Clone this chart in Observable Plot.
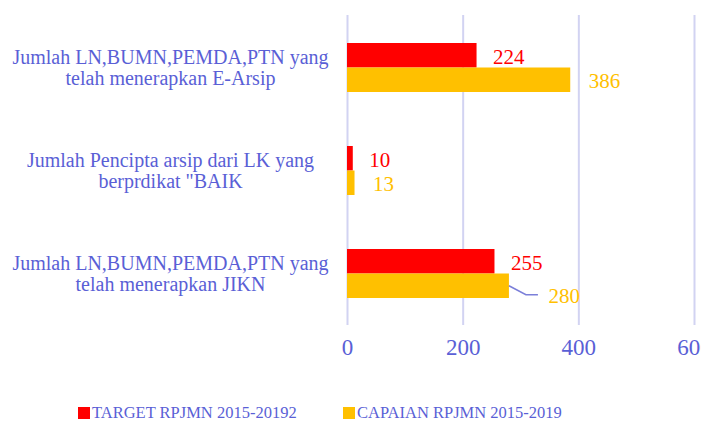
<!DOCTYPE html>
<html>
<head>
<meta charset="utf-8">
<script src="https://cdn.jsdelivr.net/npm/d3@7"></script>
<script src="https://cdn.jsdelivr.net/npm/@observablehq/plot@0.6"></script>
<style>
  html, body { margin: 0; padding: 0; background: #fff; overflow: hidden; }
  #chart { width: 701px; }
  .legend { position: relative; height: 30px; font-family: "Liberation Serif", serif; font-size: 16.5px; color: #5a5fd6; }
  .legend .item { position: absolute; top: 13px; white-space: nowrap; display: flex; align-items: center; }
  .legend .sw { display: inline-block; width: 12px; height: 12px; margin-right: 2px; }
</style>
</head>
<body>
<div id="chart"></div>
<script>
const categories = [
  "Jumlah LN,BUMN,PEMDA,PTN yang\ntelah menerapkan E-Arsip",
  "Jumlah Pencipta arsip dari LK yang\nberprdikat \"BAIK",
  "Jumlah LN,BUMN,PEMDA,PTN yang\ntelah menerapkan JIKN"
];
const targetValues = [224, 10, 255];
const capaianValues = [386, 13, 280];
const seriesNames = ["TARGET RPJMN 2015-20192", "CAPAIAN RPJMN 2015-2019"];
const seriesColors = ["#ff0000", "#ffc000"];
const xTicks = [0, 200, 400, 600];

const textColor = "#5a5fd6";
const font = "Liberation Serif, serif";

const tData = categories.map((c, i) => ({cat: c, value: targetValues[i]}));
const cData = categories.map((c, i) => ({cat: c, value: capaianValues[i]}));
const cNormal = cData.filter((d, i) => i !== 2);
const cLeader = cData.filter((d, i) => i === 2);

const leaderMark = (index, scales) => {
  const s = scales.scales || {};
  const bw = (s.y && s.y.bandwidth) || 49;
  const g = d3.create("svg:g");
  for (const d of cLeader) {
    const x0 = scales.x(d.value);
    const yc = scales.y(d.cat) + bw * 0.75;
    g.append("path")
      .attr("d", `M${x0},${yc} L${x0 + 17},${yc + 9} L${x0 + 29},${yc + 9}`)
      .attr("fill", "none")
      .attr("stroke", "#7b7fd9")
      .attr("stroke-width", 1.5);
  }
  return g.node();
};

const plot = Plot.plot({
  width: 701,
  height: 390,
  marginLeft: 347,
  marginRight: 7,
  marginTop: 15,
  marginBottom: 65,
  style: {fontFamily: font, fontSize: "19px", color: textColor, background: "#fff", overflow: "hidden"},
  x: {domain: [0, 600], ticks: xTicks, label: null},
  y: {domain: categories, paddingInner: 0.527, paddingOuter: 0.26, axis: null},
  marks: [
    Plot.gridX(xTicks, {stroke: "#d2d3f2", strokeWidth: 2, strokeOpacity: 1}),
    Plot.axisX(xTicks, {anchor: "bottom", tickSize: 0, tickPadding: 13, label: null, fill: textColor, fontSize: 23}),
    Plot.barX(tData, {x: "value", y: "cat", fill: seriesColors[0], insetBottom: 24.5}),
    Plot.barX(cData, {x: "value", y: "cat", fill: seriesColors[1], insetTop: 24.5}),
    Plot.text(tData, {x: "value", y: "cat", text: d => String(d.value), dx: 16, dy: -11, textAnchor: "start", fill: seriesColors[0], fontSize: 21}),
    Plot.text(cNormal, {x: "value", y: "cat", text: d => String(d.value), dx: 18, dy: 13, textAnchor: "start", fill: seriesColors[1], fontSize: 21}),
    Plot.text(cLeader, {x: "value", y: "cat", text: d => String(d.value), dx: 39, dy: 22, textAnchor: "start", fill: seriesColors[1], fontSize: 21}),
    leaderMark,
    Plot.text(categories, {y: d => d, text: d => d, frameAnchor: "left", dx: -177, textAnchor: "middle", fill: textColor, fontSize: 20, lineHeight: 1.03})
  ]
});
document.getElementById("chart").appendChild(plot);

const legend = document.createElement("div");
legend.className = "legend";
const lefts = [78, 343];
seriesNames.forEach((name, i) => {
  const item = document.createElement("div");
  item.className = "item";
  item.style.left = lefts[i] + "px";
  const sw = document.createElement("span");
  sw.className = "sw";
  sw.style.background = seriesColors[i];
  const t = document.createElement("span");
  t.textContent = name;
  item.appendChild(sw);
  item.appendChild(t);
  legend.appendChild(item);
});
document.getElementById("chart").appendChild(legend);
</script>
</body>
</html>
